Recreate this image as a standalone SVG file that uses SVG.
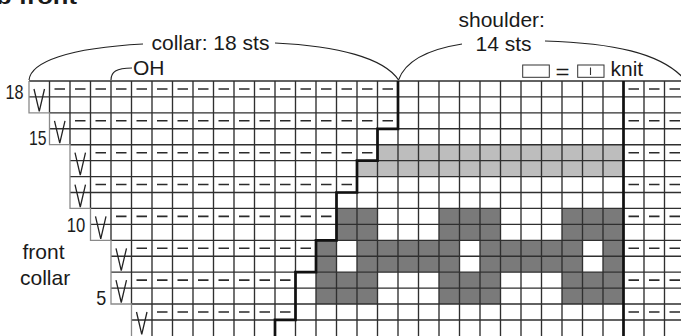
<svg xmlns="http://www.w3.org/2000/svg" width="681" height="336" viewBox="0 0 681 336">
<style>
text{font-family:"Liberation Sans",Arial,sans-serif;font-size:21px;fill:#1a1a1a}
.g{stroke:#2f2f2f;stroke-width:1.35;fill:none}
.edge{stroke:#8a8a8a;stroke-width:1.3;fill:none}
.d{stroke:#2a2a2a;stroke-width:1.6;fill:none}
.v{stroke:#222;stroke-width:1.3;fill:none}
.thick{stroke:#111;stroke-width:2.7;fill:none}
.br{stroke:#222;stroke-width:1.15;fill:none}
.lt{fill:#bdbdbd}
.dk{fill:#7a7a7a}
</style>
<rect width="681" height="336" fill="#fff"/>
<text x="-4" y="4" font-weight="bold" font-size="26" textLength="81" lengthAdjust="spacingAndGlyphs">b front</text>

<g id="fills">
<rect class="lt" x="377.5" y="144.72" width="246" height="15.93"/>
<rect class="lt" x="357" y="160.65" width="266.5" height="15.93"/>
<rect class="dk" x="336.5" y="208.44" width="41" height="31.86"/>
<rect class="dk" x="439" y="208.44" width="61.5" height="31.86"/>
<rect class="dk" x="562" y="208.44" width="61.5" height="31.86"/>
<rect class="dk" x="316" y="240.3" width="20.5" height="31.86"/>
<rect class="dk" x="357" y="240.3" width="102.5" height="31.86"/>
<rect class="dk" x="480" y="240.3" width="102.5" height="31.86"/>
<rect class="dk" x="603" y="240.3" width="20.5" height="31.86"/>
<rect class="dk" x="316" y="272.16" width="61.5" height="31.86"/>
<rect class="dk" x="439" y="272.16" width="61.5" height="31.86"/>
<rect class="dk" x="562" y="272.16" width="61.5" height="31.86"/>
</g>

<g id="grid">
<path class="g" d="M29,81H681M29,96.93H681M49.5,112.86H681M49.5,128.79H681M70,144.72H681M70,160.65H681M70,176.58H681M70,192.51H681M90.5,208.44H681M90.5,224.37H681M111,240.3H681M111,256.23H681M111,272.16H681M111,288.09H681M131.5,304.02H681M131.5,319.95H681"/>
<path class="g" d="M49.5,81V112.86M70,81V144.72M90.5,81V208.44M111,81V240.3M131.5,81V304.02M152,81V336M172.5,81V336M193,81V336M213.5,81V336M234,81V336M254.5,81V336M275,81V336M295.5,81V336M316,81V336M336.5,81V336M357,81V336M377.5,81V336M398,81V336M418.5,81V336M439,81V336M459.5,81V336M480,81V336M500.5,81V336M521,81V336M541.5,81V336M562,81V336M582.5,81V336M603,81V336M623.5,81V336M644,81V336M664.5,81V336"/>
<path class="edge" d="M29,81V112.86H49.5V144.72H70V208.44H90.5V240.3H111V304.02H131.5V336"/>
</g>

<g id="dashes">
<path class="d" d="M54.5,89h10.5m10,0h10.5m10,0h10.5m10,0h10.5m10,0h10.5m10,0h10.5m10,0h10.5m10,0h10.5m10,0h10.5m10,0h10.5m10,0h10.5m10,0h10.5m10,0h10.5m10,0h10.5m10,0h10.5m10,0h10.5m10,0h10.5"/>
<path class="d" d="M75,120.8h10.5m10,0h10.5m10,0h10.5m10,0h10.5m10,0h10.5m10,0h10.5m10,0h10.5m10,0h10.5m10,0h10.5m10,0h10.5m10,0h10.5m10,0h10.5m10,0h10.5m10,0h10.5m10,0h10.5m10,0h10.5"/>
<path class="d" d="M95.5,152.7h10.5m10,0h10.5m10,0h10.5m10,0h10.5m10,0h10.5m10,0h10.5m10,0h10.5m10,0h10.5m10,0h10.5m10,0h10.5m10,0h10.5m10,0h10.5m10,0h10.5m10,0h10.5"/>
<path class="d" d="M95.5,184.5h10.5m10,0h10.5m10,0h10.5m10,0h10.5m10,0h10.5m10,0h10.5m10,0h10.5m10,0h10.5m10,0h10.5m10,0h10.5m10,0h10.5m10,0h10.5m10,0h10.5"/>
<path class="d" d="M116,216.4h10.5m10,0h10.5m10,0h10.5m10,0h10.5m10,0h10.5m10,0h10.5m10,0h10.5m10,0h10.5m10,0h10.5m10,0h10.5m10,0h10.5"/>
<path class="d" d="M136.5,248.3h10.5m10,0h10.5m10,0h10.5m10,0h10.5m10,0h10.5m10,0h10.5m10,0h10.5m10,0h10.5m10,0h10.5"/>
<path class="d" d="M136.5,280.1h10.5m10,0h10.5m10,0h10.5m10,0h10.5m10,0h10.5m10,0h10.5m10,0h10.5m10,0h10.5"/>
<path class="d" d="M157,312h10.5m10,0h10.5m10,0h10.5m10,0h10.5m10,0h10.5m10,0h10.5m10,0h10.5"/>
<path class="d" d="M628.5,89h10.5m10,0h10.5m10,0h10.5M628.5,120.8h10.5m10,0h10.5m10,0h10.5M628.5,152.7h10.5m10,0h10.5m10,0h10.5M628.5,184.5h10.5m10,0h10.5m10,0h10.5M628.5,216.4h10.5m10,0h10.5m10,0h10.5M628.5,248.3h10.5m10,0h10.5m10,0h10.5M628.5,280.1h10.5m10,0h10.5m10,0h10.5M628.5,312h10.5m10,0h10.5m10,0h10.5"/>
</g>

<g id="slips">
<path class="v" d="M34,89L39.25,111.4L44.5,89M54.5,120.86L59.75,143.2L65,120.86M75,152.72L80.25,175.1L85.5,152.72M75,184.58L80.25,207L85.5,184.58M95.5,216.44L100.75,238.8L106,216.44M116,248.3L121.25,270.7L126.5,248.3M116,280.16L121.25,302.5L126.5,280.16M136.5,312.02L141.75,334.4L147,312.02"/>
</g>

<g id="outlines">
<path class="thick" d="M398,81V128.79H377.5V160.65H357V192.51H336.5V240.3H316V272.16H295.5V319.95H275V337"/>
<path class="thick" d="M623.5,81V337" stroke-width="3"/>
</g>

<g id="connectors">
<path class="br" d="M29,80C31,62 68,48 143,44"/>
<path class="br" d="M275,43C338,46 384,58 398.5,80"/>
<path class="br" d="M398.5,80C405,62 424,50 462,44"/>
<path class="br" d="M545,41C610,43 662,52 686,81"/>
<path class="br" d="M111,80C111,72 116,68 132,68"/>
</g>

<g id="legend">
<rect x="522.7" y="65" width="26.6" height="12.3" fill="none" stroke="#333" stroke-width="1"/>
<text x="555.5" y="79" font-size="24" textLength="14" lengthAdjust="spacingAndGlyphs">=</text>
<rect x="577.7" y="65" width="26.3" height="12.3" fill="none" stroke="#333" stroke-width="1"/>
<path d="M590.5,67.5V75" stroke="#333" stroke-width="1.1"/>
<text x="610.5" y="76">knit</text>
</g>

<g id="labels">
<text x="151.5" y="50">collar: 18 sts</text>
<text x="133" y="75">OH</text>
<text x="458.5" y="26.7">shoulder:</text>
<text x="475.5" y="50.7">14 sts</text>
<text x="22.5" y="259">front</text>
<text x="20" y="284.5">collar</text>
<text x="5.5" y="99.3" textLength="18" lengthAdjust="spacingAndGlyphs">18</text>
<text x="29" y="145" textLength="17.5" lengthAdjust="spacingAndGlyphs">15</text>
<text x="66.8" y="231.7" textLength="18.5" lengthAdjust="spacingAndGlyphs">10</text>
<text x="96.2" y="305" textLength="10" lengthAdjust="spacingAndGlyphs">5</text>
</g>
</svg>
